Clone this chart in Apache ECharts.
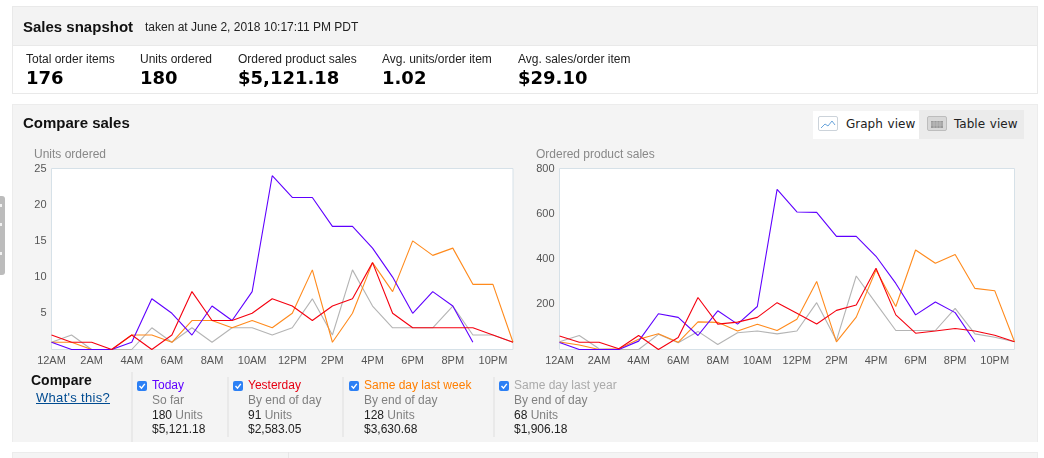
<!DOCTYPE html>
<html>
<head>
<meta charset="utf-8">
<title>Sales snapshot</title>
<script src="https://cdn.jsdelivr.net/npm/echarts@6/dist/echarts.min.js"></script>
<style>
    html, body { margin: 0; padding: 0; background: #fff; }
    body { width: 1044px; height: 458px; position: relative; overflow: hidden; font-family: "Liberation Sans", Arial, sans-serif; }
    .box { position: absolute; box-sizing: border-box; }
    .txt { position: absolute; white-space: nowrap; line-height: 14px; }
    #viz { position: absolute; left: 0; top: 0; width: 1044px; height: 458px; }
</style>
</head>
<body>
<div id="page"></div>
<div id="viz"></div>
<div id="over"></div>

<script>
// Hours of the day
const hourLabels = ['12AM', '1AM', '2AM', '3AM', '4AM', '5AM', '6AM', '7AM', '8AM', '9AM', '10AM', '11AM',
    '12PM', '1PM', '2PM', '3PM', '4PM', '5PM', '6PM', '7PM', '8PM', '9PM', '10PM', '11PM'];

// Units ordered
const unitsToday = [1, 0, 0, 0, 1, 7, 5, 2, 6, 4, 8, 24, 21, 21, 17, 17, 14, 10, 5, 8, 6, 1, null, null];
const unitsYesterday = [2, 1, 1, 0, 2, 0, 2, 8, 4, 4, 5, 7, 6, 4, 6, 7, 12, 5, 3, 3, 3, 3, 2, 1];
const unitsLastWeek = [1, 1, 0, 0, 2, 2, 1, 4, 4, 3, 4, 3, 5, 11, 1, 5, 12, 8, 15, 13, 14, 9, 9, 1];
const unitsLastYear = [1, 2, 0, 0, 0, 3, 1, 3, 1, 3, 3, 2, 3, 7, 2, 11, 6, 3, 3, 3, 6, 2, 2, 1];

// Ordered product sales
const salesToday = [31, 0, 0, 0, 37, 158, 142, 62, 171, 112, 190, 708, 608, 606, 500, 500, 412, 292, 153, 210, 163, 34, null, null];
const salesYesterday = [60, 32, 32, 3, 62, 0, 53, 230, 112, 121, 142, 207, 160, 113, 173, 197, 359, 153, 72, 82, 93, 82, 63, 34];
const salesLastWeek = [33, 20, 0, 3, 45, 70, 32, 122, 120, 82, 112, 84, 134, 301, 34, 143, 351, 190, 440, 381, 420, 270, 260, 34];
const salesLastYear = [34, 62, 3, 0, 0, 67, 30, 80, 22, 74, 82, 69, 82, 207, 40, 325, 204, 84, 84, 84, 182, 69, 54, 34];

// Text of the two header panels and the compare row
const snapshotLabels = ['Total order items', 'Units ordered', 'Ordered product sales', 'Avg. units/order item', 'Avg. sales/order item'];
const snapshotValues = ['176', '180', '$5,121.18', '1.02', '$29.10'];
const compareNames = ['Today', 'Yesterday', 'Same day last week', 'Same day last year'];
const compareNotes = ['So far', 'By end of day', 'By end of day', 'By end of day'];
const compareUnits = ['180', '91', '128', '68'];
const compareSales = ['$5,121.18', '$2,583.05', '$3,630.68', '$1,906.18'];

const colorToday = '#5f00ff';
const colorYesterday = '#f5000f';
const colorLastWeek = '#ff8a1c';
const colorLastYear = '#b4b4b4';

function addBox(parent, x, y, w, h, style) {
    const el = document.createElement('div');
    el.className = 'box';
    el.style.cssText = `left:${x}px;top:${y}px;width:${w}px;height:${h}px;${style}`;
    parent.appendChild(el);
    return el;
}

function addText(parent, x, y, text, style) {
    const el = document.createElement('div');
    el.className = 'txt';
    el.style.cssText = `left:${x}px;top:${y - 7}px;${style}`;
    el.textContent = text;
    parent.appendChild(el);
    return el;
}

const page = document.getElementById('page');
const over = document.getElementById('over');

// Snapshot panel
addBox(page, 12, 6, 1026, 40, 'background:#f3f3f3;border:1px solid #e9e9e9;');
addBox(page, 12, 45, 1026, 49, 'background:#fff;border:1px solid #e9e9e9;');
addText(over, 23, 27, 'Sales snapshot', 'font-size:15px;font-weight:bold;color:#111;');
addText(over, 145, 27, 'taken at June 2, 2018 10:17:11 PM PDT', 'font-size:12px;color:#222;');
const snapshotX = [26, 140, 238, 382, 518];
snapshotLabels.forEach((label, i) => {
    addText(over, snapshotX[i], 59, label, 'font-size:12px;color:#222;');
    addText(over, snapshotX[i], 78, snapshotValues[i], 'font:bold 18px/14px "DejaVu Sans",sans-serif;color:#000;');
});

// Compare panel
addBox(page, 12, 104, 1026, 338, 'background:#f4f4f4;border:1px solid #ececec;border-bottom:none;');
addText(over, 23, 123, 'Compare sales', 'font-size:15px;font-weight:bold;color:#111;');

// Graph view / Table view switch
addBox(over, 813, 111, 106, 28, 'background:#fff;');
addBox(over, 919, 110, 105, 29, 'background:#ebebeb;');
addBox(over, 818, 116, 20, 15, 'background:#fff;border:1px solid #ccd3da;border-radius:2px;').innerHTML =
    '<svg width="18" height="13"><polyline points="2,10 6,6 9,8 13,3 16,7" fill="none" stroke="#6aa5dc" stroke-width="1"/></svg>';
addBox(over, 927, 116, 20, 15, 'background:#d8d8d8;border:1px solid #bdbdbd;border-radius:2px;').innerHTML =
    '<svg width="18" height="13"><rect x="3" y="3" width="12" height="7" fill="#9a9a9a"/><path d="M3 5h12M3 7h12M6 3v7M9 3v7M12 3v7" stroke="#cfcfcf" stroke-width=".6"/></svg>';
addText(over, 846, 124, 'Graph view', 'font:12px/14px "DejaVu Sans",sans-serif;color:#222;word-spacing:1px;');
addText(over, 954, 124, 'Table view', 'font:12px/14px "DejaVu Sans",sans-serif;color:#222;word-spacing:1px;');

// Compare row below the charts
addText(over, 31, 380, 'Compare', 'font-size:14px;font-weight:bold;color:#111;');
addText(over, 36, 398, "What's this?", 'font-size:13px;color:#004b91;text-decoration:underline;letter-spacing:.3px;');
const dividerX = [131, 227, 342, 493];
const checkX = [137, 233, 349, 499];
const textX = [152, 248, 364, 514];
const nameColors = ['#5f00ff', '#e60012', '#ff7f00', '#aaaaaa'];
compareNames.forEach((name, i) => {
    addBox(page, dividerX[i], i === 0 ? 372 : 377, 2, i === 0 ? 70 : 60, 'background:#e9e9e9;');
    addBox(over, checkX[i], 381, 10, 10, 'background:#2c80f5;border-radius:2px;').innerHTML =
        '<svg width="10" height="10" style="display:block"><polyline points="2.5,5 4.5,7.2 7.8,2.8" fill="none" stroke="#fff" stroke-width="1.4"/></svg>';
    addText(over, textX[i], 385, name, `font-size:12px;color:${nameColors[i]};`);
    addText(over, textX[i], 400, compareNotes[i], 'font-size:12px;color:#808080;');
    const unitsLine = addText(over, textX[i], 414.5, compareUnits[i], 'font-size:12px;color:#222;');
    const unitsWord = document.createElement('span');
    unitsWord.textContent = ' Units';
    unitsWord.style.color = '#808080';
    unitsLine.appendChild(unitsWord);
    addText(over, textX[i], 429, compareSales[i], 'font-size:12px;color:#222;');
});

// Panel at the bottom edge and the tab on the left edge
addBox(page, 12, 452, 1026, 10, 'background:#f4f4f4;border:1px solid #ececec;');
addBox(page, 288, 452, 1, 6, 'background:#e6e6e6;');
addBox(page, 0, 196, 5, 79, 'background:#bcbcbc;border-radius:0 3px 3px 0;');
[204, 223, 252].forEach(dotY => addBox(page, 0, dotY, 2, 3, 'background:#f2f2f2;'));

function makeSeries(values, color, xIndex) {
    return {
        type: 'line',
        data: values,
        xAxisIndex: xIndex,
        yAxisIndex: xIndex,
        showSymbol: false,
        lineStyle: { color: color, width: 1.1 },
        itemStyle: { color: color }
    };
}

function makeXAxis(gridIndex) {
    return {
        type: 'category',
        gridIndex: gridIndex,
        data: hourLabels,
        boundaryGap: false,
        axisLine: { show: false },
        axisTick: { show: false },
        axisLabel: { interval: 1, margin: 6, fontSize: 11, color: '#555', fontFamily: 'Liberation Sans' }
    };
}

function makeYAxis(gridIndex, max, interval) {
    return {
        type: 'value',
        gridIndex: gridIndex,
        min: 0,
        max: max,
        interval: interval,
        axisLine: { show: false },
        axisTick: { show: false },
        splitLine: { show: false },
        axisLabel: {
            margin: 5,
            fontSize: 11,
            color: '#555',
            fontFamily: 'Liberation Sans',
            formatter: value => (value === 0 ? '' : value)
        }
    };
}

const titleStyle = { fontSize: 12, fontWeight: 'normal', color: '#888', fontFamily: 'Liberation Sans' };
const gridStyle = { show: true, top: 168.5, height: 181, backgroundColor: '#fff', borderColor: '#d6e1e8', borderWidth: 1 };

const myChart = echarts.init(document.getElementById('viz'));
myChart.setOption({
    animation: false,
    backgroundColor: 'transparent',
    title: [
        { text: 'Units ordered', left: 34, top: 149, padding: 0, textStyle: titleStyle },
        { text: 'Ordered product sales', left: 536, top: 149, padding: 0, textStyle: titleStyle }
    ],
    tooltip: { trigger: 'axis' },
    grid: [
        Object.assign({ left: 51.5, width: 461.5 }, gridStyle),
        Object.assign({ left: 559.5, width: 455 }, gridStyle)
    ],
    xAxis: [makeXAxis(0), makeXAxis(1)],
    yAxis: [makeYAxis(0, 25, 5), makeYAxis(1, 800, 200)],
    series: [
        makeSeries(unitsLastYear, colorLastYear, 0),
        makeSeries(unitsLastWeek, colorLastWeek, 0),
        makeSeries(unitsToday, colorToday, 0),
        makeSeries(unitsYesterday, colorYesterday, 0),
        makeSeries(salesLastYear, colorLastYear, 1),
        makeSeries(salesLastWeek, colorLastWeek, 1),
        makeSeries(salesToday, colorToday, 1),
        makeSeries(salesYesterday, colorYesterday, 1)
    ]
});
</script>
</body>
</html>
